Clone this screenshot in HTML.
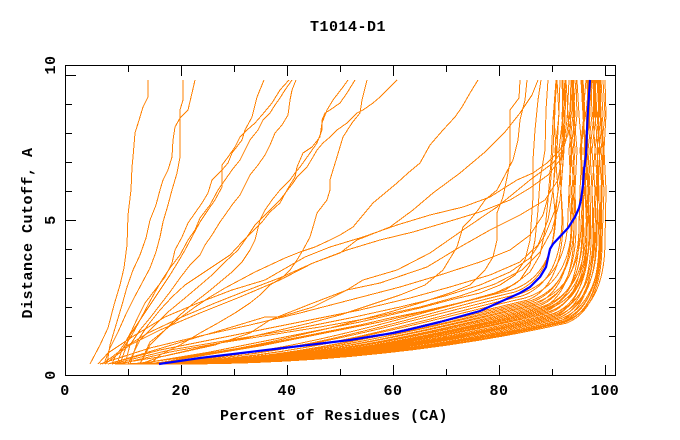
<!DOCTYPE html>
<html><head><meta charset="utf-8"><style>
html,body{margin:0;padding:0;background:#fff;}
svg{display:block;}
.t{font-family:"Liberation Mono","DejaVu Sans Mono",monospace;font-weight:bold;font-size:15px;letter-spacing:0.5px;fill:#000;}
.o{fill:none;stroke:#ff8000;stroke-width:1;}
</style></head><body>
<svg width="680" height="440" viewBox="0 0 680 440" xmlns="http://www.w3.org/2000/svg">
<rect x="0" y="0" width="680" height="440" fill="#fff"/>
<defs><clipPath id="pc"><rect x="66" y="66" width="549" height="309"/></clipPath></defs>

<g clip-path="url(#pc)" class="o" shape-rendering="crispEdges">
<!-- left fan -->
<polyline points="90,364 100,345 108,328 114,305 120,285 124,268 127,245 128,215 131,190 132,167 133,157 135,133 140,117 143,107 148,97 148,80"/>
<polyline points="183,80 183,100 180,110 180,157 177,173 172,190 168,205 163,222 160,237 156,252 150,268 142,283 134,298 126,314 118,332 110,348 104,364"/>
<polyline points="195,80 192,93 188,110 180,118 175,127 173,140 172,157 168,170 163,180 160,190 156,205 150,220 146,238 140,255 133,270 127,287 122,305 116,325 110,345 107,364"/>
<polyline points="264,80 257,97 252,117 245,130 242,140 232,153 228,163 222,170 212,180 208,193 202,203 195,213 188,223 182,237 175,250 172,263 165,277 155,290 145,303 138,317 132,330 125,343 115,357 112,364"/>
<polyline points="289,80 280,90 272,103 262,115 255,123 247,130 240,137 235,147 228,157 222,165 222,187 215,200 208,210 200,222 193,235 185,250 178,262 170,275 160,290 150,305 140,320 132,335 122,350 117,364"/>
<polyline points="292,80 285,90 280,98 275,105 270,113 263,120 258,130 250,140 245,150 240,160 232,170 225,180 218,190 210,205 200,218 195,230 188,240 180,255 170,268 162,280 155,292 148,305 140,320 130,335 125,350 120,364"/>
<polyline points="296,80 292,90 290,100 288,115 282,125 275,133 270,145 265,155 258,165 250,175 245,185 240,195 232,205 225,215 220,222 212,235 205,245 200,255 190,265 180,278 170,292 160,305 150,318 140,330 130,345 125,364"/>
<!-- middle -->
<polyline points="348,80 343,87 333,100 327,110 322,123 320,137 312,147 303,153 297,167 295,177 287,190 280,203 270,212 262,222 252,232 242,242 230,255 215,265 200,275 185,285 172,297 160,310 148,325 138,340 130,364"/>
<polyline points="355,80 347,93 340,103 330,110 325,113 322,120 322,130 317,143 310,153 300,167 295,173 290,180 280,190 272,200 265,210 260,220 255,240 250,250 242,262 232,272 220,282 208,292 195,302 180,315 165,330 150,345 140,364"/>
<polyline points="367,80 362,100 360,113 352,123 343,137 337,157 333,170 330,180 330,190 327,200 317,213 313,227 310,237 303,250 297,260 290,270 283,277 270,285 260,295 250,303 235,313 218,323 200,333 180,345 160,355 150,364"/>
<polyline points="397,80 380,97 373,103 363,110 357,113 347,123 337,130 330,137 323,143 317,150 313,157 307,167 297,177 293,183 280,200 268,212 255,225 245,240 238,250 225,262 212,275 198,287 185,298 168,312 155,325 140,340 128,364"/>
<polyline points="478,80 470,93 462,107 455,117 443,130 430,145 420,163 408,173 397,183 385,193 373,203 363,215 353,227 340,235 330,240 315,247 300,252 285,258 270,265 255,272 240,280 225,288 210,297 195,307 180,318 165,330 150,342 140,364"/>
<polyline points="105,364 130,345 160,330 200,313 240,297 280,280 313,263 340,253 357,240 390,227 413,210 433,193 460,173 485,152 505,132 520,113 532,95 538,80"/>
<!-- shallow fan -->
<polyline points="98,364 108,353 132,337 165,317 198,303 232,290 265,280 305,257 330,247 363,237 397,225 430,215 463,207 490,197 517,180 533,173 547,163 560,150 568,135 572,110 574,80"/>
<polyline points="102,364 112,357 125,347 148,333 182,317 215,303 248,290 282,277 313,263 347,250 380,240 413,232 447,222 480,212 510,200 530,188 548,175 560,160 566,140 570,110 571,80"/>
<polyline points="108,364 132,357 165,347 198,337 232,327 265,317 280,317 313,307 347,290 363,280 397,270 430,253 463,230 497,207 530,180 553,163 563,150 567,120 569,80"/>
<polyline points="115,364 165,356 215,345 250,333 270,320 313,303 347,290 380,283 427,267 460,247 490,230 520,215 545,200 558,180 563,150 565,80"/>
<polyline points="100,364 150,348 200,336 250,325 300,313 350,300 400,287 440,275 480,262 510,250 530,235 543,215 550,190 553,150 555,110 556,80"/>
<polyline points="108,364 160,350 210,340 260,330 310,320 360,310 410,298 450,287 490,275 520,262 538,245 548,220 553,190 557,150 559,110 560,80"/>
<polyline points="120,364 170,352 220,343 270,335 320,327 370,318 420,307 460,296 495,284 522,270 540,252 552,230 560,200 563,160 565,120 566,80"/>
<polyline points="112,364 170,350 230,340 290,330 350,318 400,307 445,296 480,285 510,272 530,258 545,235 555,210 560,180 562,140 563,80"/>
<!-- vertical-ish right-middle -->
<polyline points="520,80 519,98 510,110 510,163 503,197 497,213 497,240 493,257 485,270 470,285 450,293 420,303 390,312 360,320 330,328 300,335 270,342 240,348 210,353 180,358 150,362 130,364"/>
<polyline points="527,80 525,100 520,120 518,140 513,160 505,175 497,190 485,200 478,210 470,220 463,227 457,247 443,270 425,285 400,295 370,305 340,315 310,323 280,330 250,337 220,343 190,350 160,357 140,364"/>
<polyline points="541,80 538,100 535,130 533,160 533,197 530,240 525,260 515,275 500,285 480,293 450,300 420,308 390,315 360,322 330,328 300,334 270,340 240,346 210,352 180,357 150,362 135,364"/>
<polyline points="548,80 546,110 545,150 540,180 538,210 535,240 530,265 520,280 505,290 480,298 450,305 420,312 390,318 360,325 330,331 300,337 270,343 240,349 210,354 180,359 155,364"/>
<polyline points="556,80 553,120 551,160 548,200 545,230 540,255 530,272 515,284 495,293 470,300 440,308 410,315 380,322 350,328 320,334 290,340 260,346 230,351 200,356 170,361 150,364"/>
<!-- dense bundle -->
<path d="M115,364 C275,363.5 407,314 512,290 C536,282 556,260 556,210 L558,190 L555,150 L559,115 L557,80"/>
<path d="M123,364 C283,363.5 410,316 515,292 C537,284 555,262 555,212 L553,190 L556,150 L554,115 L557,80"/>
<path d="M120,364 C280,363.5 414,318 519,294 C546,286 568,264 568,214 L569,190 L571,150 L568,115 L566,80"/>
<path d="M133,364 C293,363.5 417,320 522,296 C544,288 562,266 562,216 L561,190 L559,150 L563,115 L562,80"/>
<path d="M126,364 C286,363.5 420,322 525,298 C551,290 572,268 572,218 L574,190 L571,150 L575,115 L573,80"/>
<path d="M136,364 C296,363.5 423,324 528,300 C547,292 563,270 563,220 L561,190 L564,150 L562,115 L565,80"/>
<path d="M134,364 C294,363.5 425,325 530,301 C554,293 574,271 574,221 L575,190 L577,150 L574,115 L572,80"/>
<path d="M144,364 C304,363.5 427,326 532,302 C554,294 572,272 572,222 L571,190 L569,150 L573,115 L572,80"/>
<path d="M135,364 C295,363.5 429,327 534,303 C560,295 581,273 581,223 L583,190 L580,150 L584,115 L582,80"/>
<path d="M146,364 C306,363.5 431,328 536,304 C555,296 571,274 571,224 L569,190 L572,150 L570,115 L573,80"/>
<path d="M144,364 C304,363.5 432,329 537,305 C560,297 579,275 579,225 L580,190 L582,150 L579,115 L577,80"/>
<path d="M154,364 C314,363.5 434,330 539,306 C559,298 576,276 576,226 L575,190 L573,150 L577,115 L576,80"/>
<path d="M145,364 C305,363.5 436,331 541,307 C566,299 586,277 586,227 L588,190 L585,150 L589,115 L587,80"/>
<path d="M151,364 C311,363.5 437,332 542,308 C560,300 574,278 574,228 L572,190 L575,150 L573,115 L576,80"/>
<path d="M144,364 C304,363.5 438,332 543,308 C565,300 583,278 583,228 L584,190 L586,150 L583,115 L581,80"/>
<path d="M157,364 C317,363.5 439,333 544,309 C568,301 587,279 587,229 L586,190 L584,150 L588,115 L587,80"/>
<path d="M152,364 C312,363.5 440,334 545,310 C565,302 582,280 582,230 L584,190 L581,150 L585,115 L583,80"/>
<path d="M161,364 C321,363.5 441,334 546,310 C570,302 590,280 590,230 L588,190 L591,150 L589,115 L592,80"/>
<path d="M154,364 C314,363.5 442,335 547,311 C565,303 579,281 579,231 L580,190 L582,150 L579,115 L577,80"/>
<path d="M158,364 C318,363.5 443,336 548,312 C571,304 589,282 589,232 L588,190 L586,150 L590,115 L589,80"/>
<path d="M164,364 C324,363.5 444,336 549,312 C570,304 587,282 587,232 L589,190 L586,150 L590,115 L588,80"/>
<path d="M156,364 C316,363.5 445,337 550,313 C569,305 584,283 584,233 L582,190 L585,150 L583,115 L586,80"/>
<path d="M164,364 C324,363.5 447,338 552,314 C576,306 595,284 595,234 L596,190 L598,150 L595,115 L593,80"/>
<path d="M157,364 C317,363.5 448,338 553,314 C573,306 589,284 589,234 L588,190 L586,150 L590,115 L589,80"/>
<path d="M167,364 C327,363.5 449,339 554,315 C575,307 593,285 593,235 L595,190 L592,150 L596,115 L594,80"/>
<path d="M165,364 C325,363.5 450,340 555,316 C573,308 587,286 587,236 L585,190 L588,150 L586,115 L589,80"/>
<path d="M173,364 C333,363.5 451,340 556,316 C579,308 597,286 597,236 L598,190 L600,150 L597,115 L595,80"/>
<path d="M164,364 C324,363.5 452,341 557,317 C576,309 591,287 591,237 L590,190 L588,150 L592,115 L591,80"/>
<path d="M171,364 C331,363.5 453,342 558,318 C579,310 596,288 596,238 L598,190 L595,150 L599,115 L597,80"/>
<path d="M164,364 C324,363.5 454,342 559,318 C578,310 594,288 594,238 L592,190 L595,150 L593,115 L596,80"/>
<path d="M176,364 C336,363.5 455,343 560,319 C582,311 600,289 600,239 L601,190 L603,150 L600,115 L598,80"/>
<path d="M172,364 C332,363.5 457,344 562,320 C579,312 593,290 593,240 L592,190 L590,150 L594,115 L593,80"/>
<path d="M180,364 C340,363.5 458,344 563,320 C583,312 600,290 600,240 L602,190 L599,150 L603,115 L601,80"/>
<path d="M173,364 C333,363.5 459,345 564,321 C583,313 599,291 599,241 L597,190 L600,150 L598,115 L601,80"/>
<path d="M177,364 C337,363.5 460,346 565,322 C585,314 601,292 601,242 L602,190 L604,150 L601,115 L599,80"/>
<path d="M182,364 C342,363.5 461,346 566,322 C585,314 600,292 600,242 L599,190 L597,150 L601,115 L600,80"/>
<path d="M175,364 C335,363.5 462,347 567,323 C586,315 602,293 602,243 L604,190 L601,150 L605,115 L603,80"/>
<path d="M168,364 C328,363.5 460,345 565,321 C587,313 605,291 605,241 L606,190 L604,150 L606,115 L605,80"/>
</g>

<!-- blue reference curve -->
<polyline clip-path="url(#pc)" fill="none" stroke="#0000ff" stroke-width="2.2" stroke-linejoin="round" points="159,364 200,358 250,352 300,346 350,340 393,333 407,330 440,322 480,311 520,293 530,287 540,277 546,267 550,249 553,244 568,228 575,217 579,208 581,200 583,185 584,170 586,155 587,130 588,110 589,95 590,80"/>

<!-- frame -->
<rect x="65.5" y="65.5" width="550" height="310" fill="none" stroke="#000" stroke-width="1" shape-rendering="crispEdges"/>

<!-- ticks -->
<g stroke="#000" stroke-width="1" shape-rendering="crispEdges">
<line x1="128.5" y1="375" x2="128.5" y2="369"/>
<line x1="181.5" y1="375" x2="181.5" y2="365"/>
<line x1="234.5" y1="375" x2="234.5" y2="369"/>
<line x1="287.5" y1="375" x2="287.5" y2="365"/>
<line x1="340.5" y1="375" x2="340.5" y2="369"/>
<line x1="393.5" y1="375" x2="393.5" y2="365"/>
<line x1="446.5" y1="375" x2="446.5" y2="369"/>
<line x1="499.5" y1="375" x2="499.5" y2="365"/>
<line x1="552.5" y1="375" x2="552.5" y2="369"/>
<line x1="605.5" y1="375" x2="605.5" y2="365"/>
<line x1="128.5" y1="66" x2="128.5" y2="72"/>
<line x1="181.5" y1="66" x2="181.5" y2="76"/>
<line x1="234.5" y1="66" x2="234.5" y2="72"/>
<line x1="287.5" y1="66" x2="287.5" y2="76"/>
<line x1="340.5" y1="66" x2="340.5" y2="72"/>
<line x1="393.5" y1="66" x2="393.5" y2="76"/>
<line x1="446.5" y1="66" x2="446.5" y2="72"/>
<line x1="499.5" y1="66" x2="499.5" y2="76"/>
<line x1="552.5" y1="66" x2="552.5" y2="72"/>
<line x1="605.5" y1="66" x2="605.5" y2="76"/>
<line x1="66" y1="336.5" x2="72" y2="336.5"/>
<line x1="66" y1="307.5" x2="72" y2="307.5"/>
<line x1="66" y1="278.5" x2="72" y2="278.5"/>
<line x1="66" y1="249.5" x2="72" y2="249.5"/>
<line x1="66" y1="220.5" x2="76" y2="220.5"/>
<line x1="66" y1="191.5" x2="72" y2="191.5"/>
<line x1="66" y1="162.5" x2="72" y2="162.5"/>
<line x1="66" y1="133.5" x2="72" y2="133.5"/>
<line x1="66" y1="104.5" x2="72" y2="104.5"/>
<line x1="66" y1="75.5" x2="76" y2="75.5"/>
<line x1="615" y1="336.5" x2="609" y2="336.5"/>
<line x1="615" y1="307.5" x2="609" y2="307.5"/>
<line x1="615" y1="278.5" x2="609" y2="278.5"/>
<line x1="615" y1="249.5" x2="609" y2="249.5"/>
<line x1="615" y1="220.5" x2="605" y2="220.5"/>
<line x1="615" y1="191.5" x2="609" y2="191.5"/>
<line x1="615" y1="162.5" x2="609" y2="162.5"/>
<line x1="615" y1="133.5" x2="609" y2="133.5"/>
<line x1="615" y1="104.5" x2="609" y2="104.5"/>
<line x1="615" y1="75.5" x2="605" y2="75.5"/>
</g>

<!-- labels -->
<text class="t" x="348" y="31" text-anchor="middle">T1014-D1</text>
<text class="t" x="65" y="395" text-anchor="middle">0</text>
<text class="t" x="181" y="395" text-anchor="middle">20</text>
<text class="t" x="287" y="395" text-anchor="middle">40</text>
<text class="t" x="393" y="395" text-anchor="middle">60</text>
<text class="t" x="499" y="395" text-anchor="middle">80</text>
<text class="t" x="605" y="395" text-anchor="middle">100</text>
<text class="t" x="334" y="420" text-anchor="middle">Percent of Residues (CA)</text>
<text class="t" transform="translate(55,375) rotate(-90)" text-anchor="middle">0</text>
<text class="t" transform="translate(55,220) rotate(-90)" text-anchor="middle">5</text>
<text class="t" transform="translate(55,65) rotate(-90)" text-anchor="middle">10</text>
<text class="t" transform="translate(32,233) rotate(-90)" text-anchor="middle">Distance Cutoff, A</text>
</svg>
</body></html>
